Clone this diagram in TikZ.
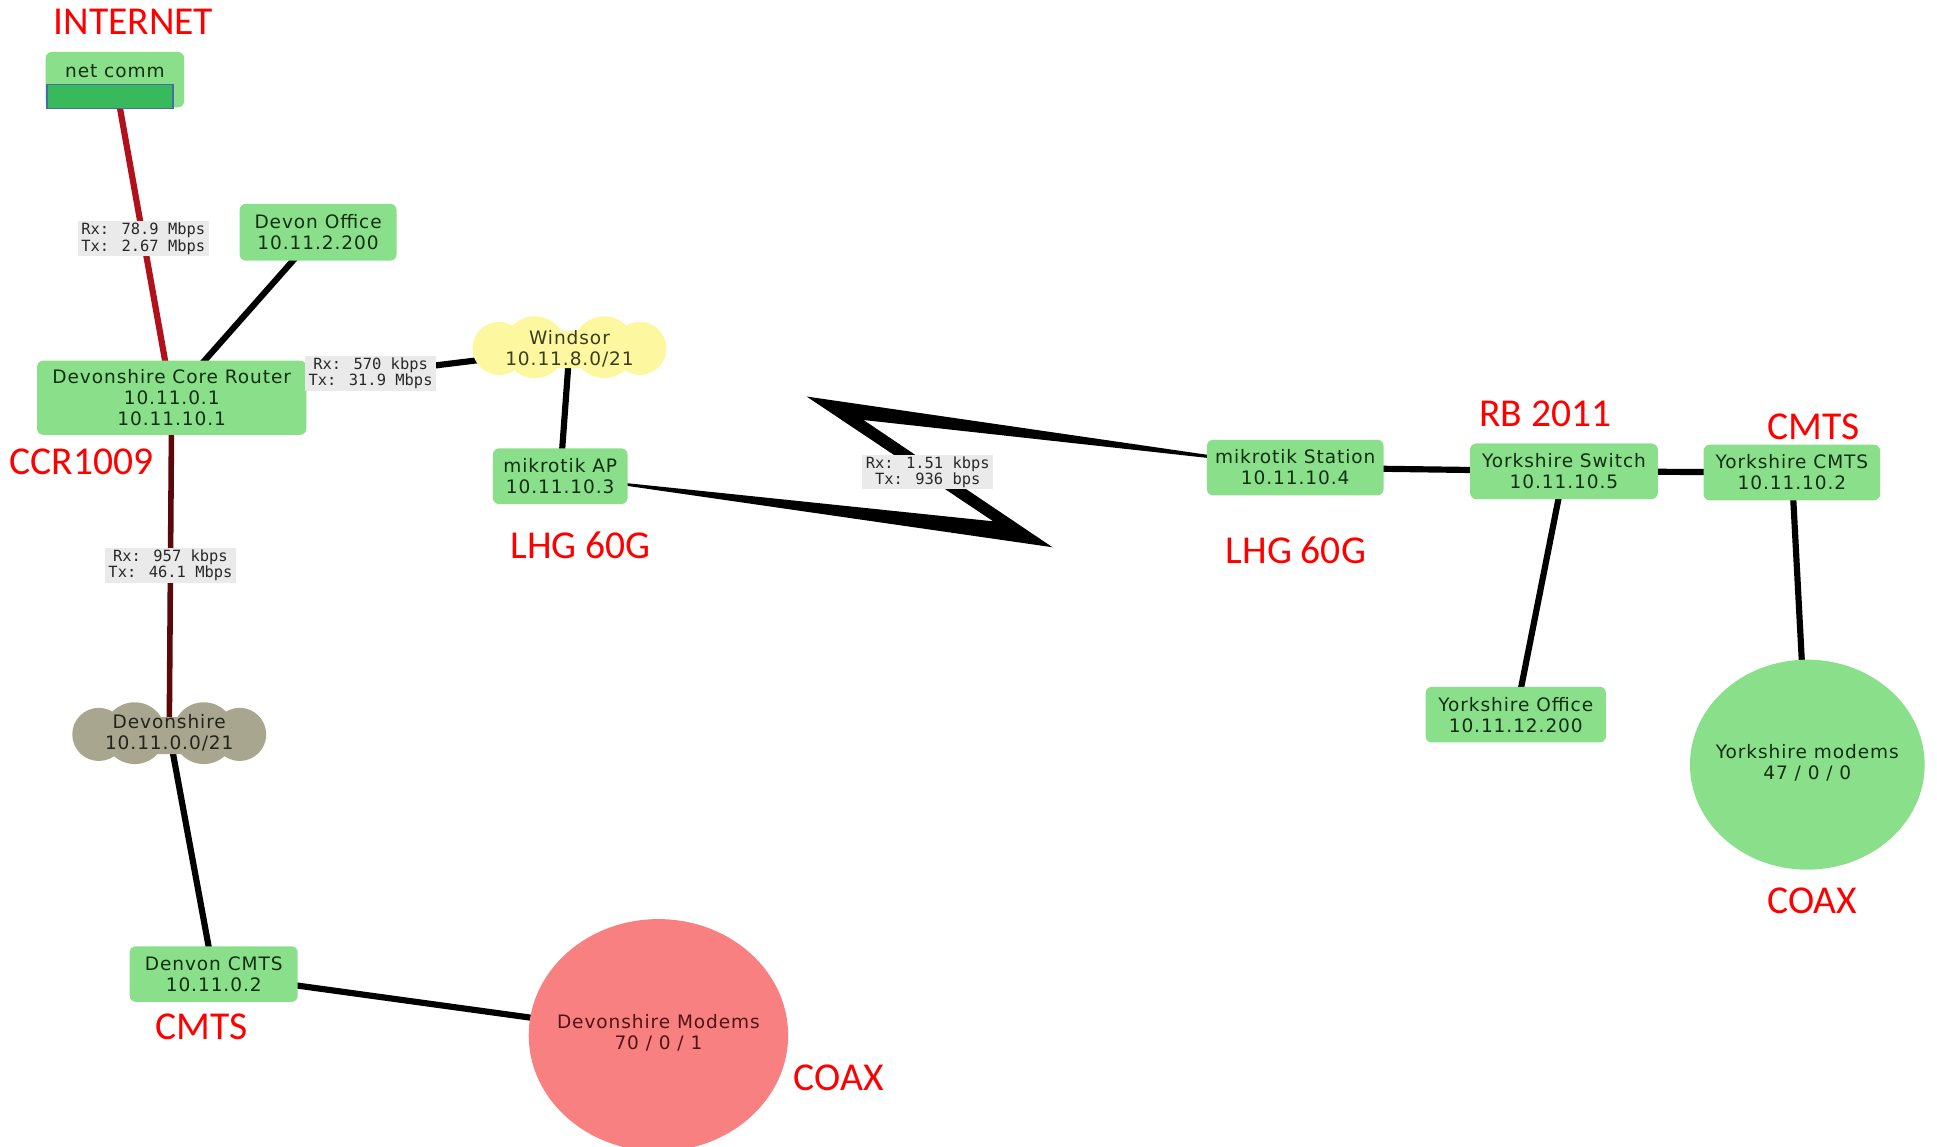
\documentclass[tikz,border=0pt]{standalone}
\usepackage{fontspec}
\setmainfont{DejaVu Sans}
\newfontfamily\monof{DejaVu Sans Mono}
\newfontfamily\redf{Carlito}
\newfontfamily\nodef[LetterSpace=5.0]{DejaVu Sans}
\usetikzlibrary{shapes.geometric,backgrounds,calc}
\pgfdeclarelayer{background}
\pgfsetlayers{background,main}
\definecolor{nodegreen}{RGB}{138,224,138}
\definecolor{nodetext}{RGB}{18,46,18}
\definecolor{modemred}{RGB}{248,128,128}
\definecolor{modemtext}{RGB}{80,20,20}
\definecolor{windyellow}{RGB}{253,248,160}
\definecolor{devgray}{RGB}{169,166,143}
\definecolor{inetred}{RGB}{178,16,26}
\definecolor{darkred}{RGB}{92,8,8}
\definecolor{lblgray}{RGB}{234,234,234}
\definecolor{lbltext}{RGB}{40,40,40}
\definecolor{covergreen}{RGB}{56,185,92}
\definecolor{coverblue}{RGB}{74,106,165}
\begin{document}
\begin{tikzpicture}[x=1pt,y=-1pt,
  dev/.style={rectangle, rounded corners=5pt, fill=nodegreen, text=nodetext,
    font=\nodef\fontsize{15}{17}\selectfont, align=center, inner sep=0pt},
  modem/.style={ellipse, inner sep=0pt, font=\nodef\fontsize{15}{17}\selectfont},
  cloudtxt/.style={font=\nodef\fontsize{15}{17}\selectfont, align=center, inner sep=0pt},
  lnk/.style={fill=lblgray, text=lbltext, font=\monof\fontsize{12.5}{13}\selectfont,
    align=center, inner xsep=3pt, inner ysep=1.5pt},
  redlbl/.style={text=red, font=\redf\fontsize{32}{36}\selectfont, inner sep=0pt, text depth=0pt},
  wire/.style={line width=5pt, black},
  inet/.style={line width=5pt, inetred},
  trunk/.style={line width=4.5pt, darkred}]
\useasboundingbox (0,0) rectangle (1568,928);

% clouds
\begin{scope}[shift={(461,281)}]
  \fill[windyellow] (-57,1) circle[radius=21.5pt] (57,1) circle[radius=21.5pt]
    (-28,0) circle[radius=25pt] (28,0) circle[radius=25pt] (-50,-13) rectangle (50,17);
\end{scope}
\begin{scope}[shift={(137,593.5)}]
  \fill[devgray] (-57,1) circle[radius=21.5pt] (57,1) circle[radius=21.5pt]
    (-28,0) circle[radius=25pt] (28,0) circle[radius=25pt] (-50,-13) rectangle (50,17);
\end{scope}
\node[cloudtxt, text={rgb,255:red,60;green,60;blue,30}] (windsor) at (461,282.5) {Windsor\\10.11.8.0/21};
\node[cloudtxt, text={rgb,255:red,35;green,35;blue,30}] (devcloud) at (137,593.5) {Devonshire\\10.11.0.0/21};

% device nodes
\node[dev, minimum width=112, minimum height=45] (net) at (93,64.5) {net comm\\[-8pt]\strut};
\node[dev, minimum width=127, minimum height=46] (office) at (257.5,188) {Devon Office\\10.11.2.200};
\node[dev, minimum width=218, minimum height=60] (core) at (139,322) {Devonshire Core Router\\10.11.0.1\\10.11.10.1};
\node[dev, minimum width=109, minimum height=45] (ap) at (453.5,385.5) {mikrotik AP\\10.11.10.3};
\node[dev, minimum width=136, minimum height=45] (dcmts) at (173,788.5) {Denvon CMTS\\10.11.0.2};
\node[dev, minimum width=143, minimum height=45] (station) at (1048.5,378.5) {mikrotik Station\\10.11.10.4};
\node[dev, minimum width=152, minimum height=45] (switch) at (1266,381.5) {Yorkshire Switch\\10.11.10.5};
\node[dev, minimum width=143, minimum height=45] (ycmts) at (1450.5,382.5) {Yorkshire CMTS\\10.11.10.2};
\node[dev, minimum width=146, minimum height=45] (yoffice) at (1227,578.5) {Yorkshire Office\\10.11.12.200};
\node[modem, fill=modemred, text=modemtext, minimum width=210, minimum height=188] (dmodems) at (533,838)
  {\makebox[0pt]{\begin{tabular}{@{}c@{}}Devonshire Modems\\70 / 0 / 1\end{tabular}}};
\node[modem, fill=nodegreen, text=nodetext, minimum width=190, minimum height=170] (ymodems) at (1463,619)
  {\makebox[0pt]{\begin{tabular}{@{}c@{}}Yorkshire modems\\47 / 0 / 0\end{tabular}}};

% cover over net comm address
\filldraw[fill=covergreen, draw=coverblue, line width=1.2pt] (38,68.5) rectangle (140,88);

% lightning link corners
\coordinate (zlowin) at (804,422);
\coordinate (zuptip) at (653,321);
\coordinate (zupin) at (699,340);
\coordinate (zlowtip) at (852,443);

% connectors
\begin{pgfonlayer}{background}
  \fill[white] (0,0) rectangle (1568,928);
  \draw[inet] (net.center) -- (core.center);
  \draw[wire] (core.center) -- (office.center);
  \draw[wire] (core.center) -- (windsor.center);
  \draw[wire] (windsor.center) -- (ap.center);
  \draw[trunk] (core.center) -- (devcloud.center);
  \draw[wire] (devcloud.center) -- (dcmts.center);
  \draw[wire] (dcmts.center) -- (dmodems.center);
  \fill[black] (ap.center) -- (zlowin) -- (zuptip) -- (station.center) -- (zupin) -- (zlowtip) -- cycle;
  \draw[wire] (station.center) -- (switch.center);
  \draw[wire] (switch.center) -- (ycmts.center);
  \draw[wire] (switch.center) -- (yoffice.center);
  \draw[wire] (ycmts.center) -- (ymodems.center);
\end{pgfonlayer}

% link labels
\node[lnk] (l1) at ($(net.center)!0.5!(core.center)$) {Rx: 78.9 Mbps\\Tx: 2.67 Mbps};
\node[lnk] (l2) at ($(core.center)!0.5!(windsor.center)$) {Rx: 570 kbps\\Tx: 31.9 Mbps};
\node[lnk] (l3) at ($(core.center)!0.5!(devcloud.center)$) {Rx: 957 kbps\\Tx: 46.1 Mbps};
\node[lnk] (l4) at ($(ap.center)!0.5!(station.center)$) {Rx: 1.51 kbps\\Tx: 936 bps};

% red annotations
\node[redlbl] (rInternet) at (108,18) {INTERNET};
\node[redlbl] (rCCR) at (66,374) {CCR1009};
\node[redlbl] (rLHG1) at (470,441) {LHG 60G};
\node[redlbl] (rLHG2) at (1049,445) {LHG 60G};
\node[redlbl] (rCMTS1) at (163,831) {CMTS};
\node[redlbl] (rCOAX1) at (679,872) {COAX};
\node[redlbl] (rRB) at (1251,335) {RB 2011};
\node[redlbl] (rCMTS2) at (1468,345) {CMTS};
\node[redlbl] (rCOAX2) at (1467,729) {COAX};
\end{tikzpicture}
\end{document}
